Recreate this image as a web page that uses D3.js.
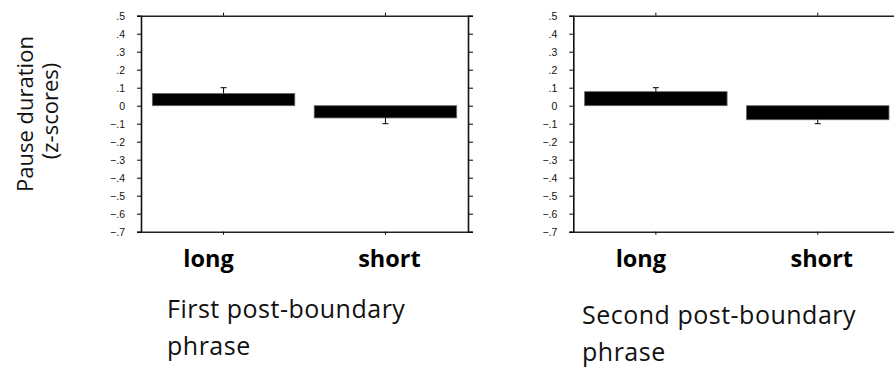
<!DOCTYPE html>
<head>
    <meta charset="utf-8">
    <title>Pause duration</title>
    <script src="https://d3js.org/d3.v7.min.js"></script>
</head>

<body>
<svg id="chart" width="894" height="367"></svg>
</body>

<script>

    // data
    var categories = ["long", "short"]
    var yTicks = [.5, .4, .3, .2, .1, 0, -.1, -.2, -.3, -.4, -.5, -.6, -.7]
    var firstMeans = [0.068, -0.068]
    var firstErrors = [0.032, 0.032]
    var secondMeans = [0.078, -0.078]
    var secondErrors = [0.022, 0.022]
    var firstTitle = ["First post-boundary", "phrase"]
    var secondTitle = ["Second post-boundary", "phrase"]

    var svg = d3.select("#chart")
    var textFont = "'Open Sans', Lato, sans-serif"

    var y = d3.scaleLinear().domain([-.7, .5]).range([231.7, 15.7])

    function fmt(d) {
        if (d === 0) return "0"
        return d3.format(".1f")(d).replace("0.", ".")
    }

    function drawPanel(left, means, errors, title, titleX, titleY) {
        var right = left + 327
        var x = d3.scaleBand().domain(categories).range([left, right])
            .paddingInner(0.12).paddingOuter(0.07)
        var g = svg.append("g")

        // bars
        g.selectAll(".bar")
            .data(means)
            .enter().append("rect")
            .attr("class", "bar")
            .attr("x", function(d, i) { return x(categories[i]) })
            .attr("width", x.bandwidth())
            .attr("y", function(d) { return y(Math.max(0, d)) })
            .attr("height", function(d) { return Math.abs(y(d) - y(0)) })
            .attr("fill", "#000")
            .attr("stroke", "#666")
            .attr("stroke-width", 0.8)

        // error bars (only the outer half shows)
        means.forEach(function(m, i) {
            var cx = x(categories[i]) + x.bandwidth() / 2
            var end = m > 0 ? m + errors[i] : m - errors[i]
            g.append("line").attr("x1", cx).attr("x2", cx)
                .attr("y1", y(m)).attr("y2", y(end))
                .attr("stroke", "#000").attr("stroke-width", 1)
            g.append("line").attr("x1", cx - 3).attr("x2", cx + 3)
                .attr("y1", y(end)).attr("y2", y(end))
                .attr("stroke", "#000").attr("stroke-width", 1)
        })

        // left axis
        var yAxis = d3.axisLeft(y).tickValues(yTicks).tickFormat(fmt).tickSize(4).tickPadding(12)
        var ya = g.append("g").attr("transform", "translate(" + left + ",0)").call(yAxis)
        ya.select(".domain").attr("stroke", "#111").attr("stroke-width", 1.6)
        ya.selectAll("text").style("font-family", "'Liberation Sans', Arial, sans-serif").style("font-size", "10.5px").attr("fill", "#111")

        // right axis
        var ra = g.append("g").attr("transform", "translate(" + right + ",0)")
            .call(d3.axisRight(y).tickValues(yTicks).tickFormat("").tickSize(5))
        ra.select(".domain").attr("stroke", "#111").attr("stroke-width", 1.6)

        // top and bottom frame with category ticks
        var ta = g.append("g").attr("transform", "translate(0," + y(.5) + ")")
            .call(d3.axisTop(x).tickSize(3).tickFormat("").tickSizeOuter(0))
        ta.select(".domain").attr("stroke", "#222").attr("stroke-width", 1.6)
        var ba = g.append("g").attr("transform", "translate(0," + y(-.7) + ")")
            .call(d3.axisBottom(x).tickSize(3).tickFormat("").tickSizeOuter(0))
        ba.select(".domain").attr("stroke", "#222").attr("stroke-width", 1.6)

        // category labels
        g.selectAll(".cat")
            .data(categories)
            .enter().append("text")
            .attr("class", "cat")
            .attr("x", function(d) { return x(d) + x.bandwidth() / 2 + (d == "long" ? -15 : 4) })
            .attr("y", 267)
            .attr("text-anchor", "middle")
            .style("font-family", textFont)
            .style("font-weight", "bold")
            .style("font-size", "23.5px")
            .text(function(d) { return d })

        // panel title
        g.selectAll(".ttl")
            .data(title)
            .enter().append("text")
            .attr("class", "ttl")
            .attr("x", titleX)
            .attr("y", function(d, i) { return titleY + i * 37 })
            .style("font-family", textFont)
            .style("font-size", "25px")
            .style("letter-spacing", "0.5px")
            .attr("fill", "#111")
            .text(function(d) { return d })
    }

    drawPanel(141, firstMeans, firstErrors, firstTitle, 167, 318)
    drawPanel(573.3, secondMeans, secondErrors, secondTitle, 582, 324)

    // y axis title
    svg.append("text")
        .attr("transform", "translate(33,114) rotate(-90)")
        .attr("text-anchor", "middle")
        .style("font-family", textFont)
        .style("font-size", "22px")
        .attr("fill", "#111")
        .text("Pause duration")
    svg.append("text")
        .attr("transform", "translate(58,111) rotate(-90)")
        .attr("text-anchor", "middle")
        .style("font-family", textFont)
        .style("font-size", "22px")
        .attr("fill", "#111")
        .text("(z-scores)")

</script>

<style>
    html, body {
        margin: 0;
        background: #fff;
    }
    svg {
        display: block;
    }
</style>

</html>
